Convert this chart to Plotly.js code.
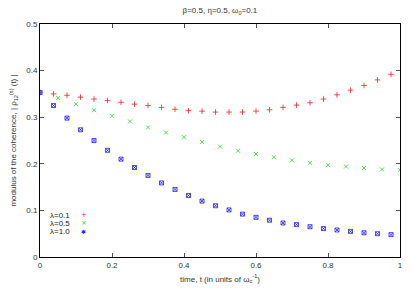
<!DOCTYPE html>
<html>
<head>
<meta charset="utf-8">
<script src="https://cdn.plot.ly/plotly-3.0.1.min.js"></script>
<style>html,body{margin:0;padding:0;background:#fff}#chart{width:415px;height:291px}</style>
</head>
<body>
<div id="chart"></div>
<script>
// time grids
var tFine = [0,0.0375,0.075,0.1125,0.15,0.1875,0.225,0.2625,0.3,0.3375,0.375,0.4125,0.45,0.4875,0.525,0.5625,0.6,0.6375,0.675,0.7125,0.75,0.7875,0.825,0.8625,0.9,0.9375,0.975];
var tCoarse = [0,0.05,0.1,0.15,0.2,0.25,0.3,0.35,0.4,0.45,0.5,0.55,0.6,0.65,0.7,0.75,0.8,0.85,0.9,0.95,1.0];
// series
var lambda01 = [0.353,0.350,0.347,0.343,0.339,0.336,0.332,0.328,0.325,0.321,0.317,0.314,0.313,0.311,0.311,0.311,0.313,0.316,0.321,0.326,0.331,0.339,0.348,0.358,0.368,0.380,0.392];
var lambda05 = [0.353,0.341,0.328,0.315,0.303,0.291,0.278,0.267,0.257,0.247,0.237,0.228,0.221,0.214,0.2075,0.202,0.197,0.194,0.191,0.188,0.187];
var lambda10 = [0.353,0.325,0.298,0.273,0.250,0.229,0.210,0.192,0.175,0.159,0.145,0.132,0.120,0.110,0.101,0.092,0.085,0.079,0.073,0.0695,0.065,0.061,0.058,0.055,0.052,0.050,0.048];
var names = ['λ=0.1','λ=0.5','λ=1.0'];
var colors = ['#ff2020','#20e020','#2020ff'];
var legendGlyphs = ['+','×','✱'];

var font = 'Liberation Sans, Arial, sans-serif';
var traces = [
  {x: tFine, y: lambda01, name: names[0], mode: 'markers', type: 'scatter',
   marker: {symbol: 'cross-thin-open', size: 4, line: {color: colors[0], width: 0.8}, color: colors[0]}},
  {x: tCoarse, y: lambda05, name: names[1], mode: 'markers', type: 'scatter',
   marker: {symbol: 'x-thin-open', size: 4, line: {color: colors[1], width: 0.8}, color: colors[1]}},
  {x: tFine, y: lambda10, name: names[2], mode: 'markers', type: 'scatter',
   marker: {symbol: 'square-x-open', size: 4, line: {color: colors[2], width: 0.8}, color: colors[2]}}
];
var annotations = [];
for (var i = 0; i < names.length; i++) {
  annotations.push({xref: 'paper', yref: 'paper', x: 0.022, y: 0.18 - i * 0.036, xanchor: 'left', yanchor: 'middle',
    text: names[i], showarrow: false, font: {family: font, size: 8, color: '#222'}});
  annotations.push({xref: 'paper', yref: 'paper', x: 0.122, y: 0.18 - i * 0.036, xanchor: 'center', yanchor: 'middle',
    text: legendGlyphs[i], showarrow: false, font: {family: 'DejaVu Sans, sans-serif', size: i === 2 ? 6 : 7, color: colors[i]}});
}
var axisCommon = {
  showgrid: false, zeroline: false, showline: true, linecolor: '#000', linewidth: 1,
  mirror: 'ticks', ticks: 'inside', ticklen: 4, tickcolor: '#555', tickwidth: 1,
  tickfont: {family: font, size: 8, color: '#333'}
};
var layout = {
  width: 415, height: 291,
  margin: {l: 40, r: 15, t: 24, b: 34},
  paper_bgcolor: '#fff', plot_bgcolor: '#fff',
  font: {family: font, size: 8, color: '#333'},
  title: {text: 'β=0.5, η=0.5, ω<sub>0</sub>=0.1', font: {family: font, size: 8, color: '#333'},
          x: 0.53, xanchor: 'center', y: 0.965, yanchor: 'middle'},
  xaxis: Object.assign({}, axisCommon, {range: [0, 1], tickvals: [0,0.2,0.4,0.6,0.8,1], ticktext: ['0','0.2','0.4','0.6','0.8','1'],
    title: {text: 'time, t (in units of ω<sub>c</sub><sup>-1</sup>)', font: {family: font, size: 8, color: '#333'}, standoff: 7}}),
  yaxis: Object.assign({}, axisCommon, {range: [0, 0.5], tickvals: [0,0.1,0.2,0.3,0.4,0.5], ticktext: ['0','0.1','0.2','0.3','0.4','0.5'],
    title: {text: 'modulus of the coherence, | ρ<sub>12</sub><sup>(s)</sup> (t) |', font: {family: font, size: 8, color: '#333'}, standoff: 8}}),
  showlegend: false,
  annotations: annotations
};
Plotly.newPlot('chart', traces, layout, {displayModeBar: false, staticPlot: true});
</script>
</body>
</html>
